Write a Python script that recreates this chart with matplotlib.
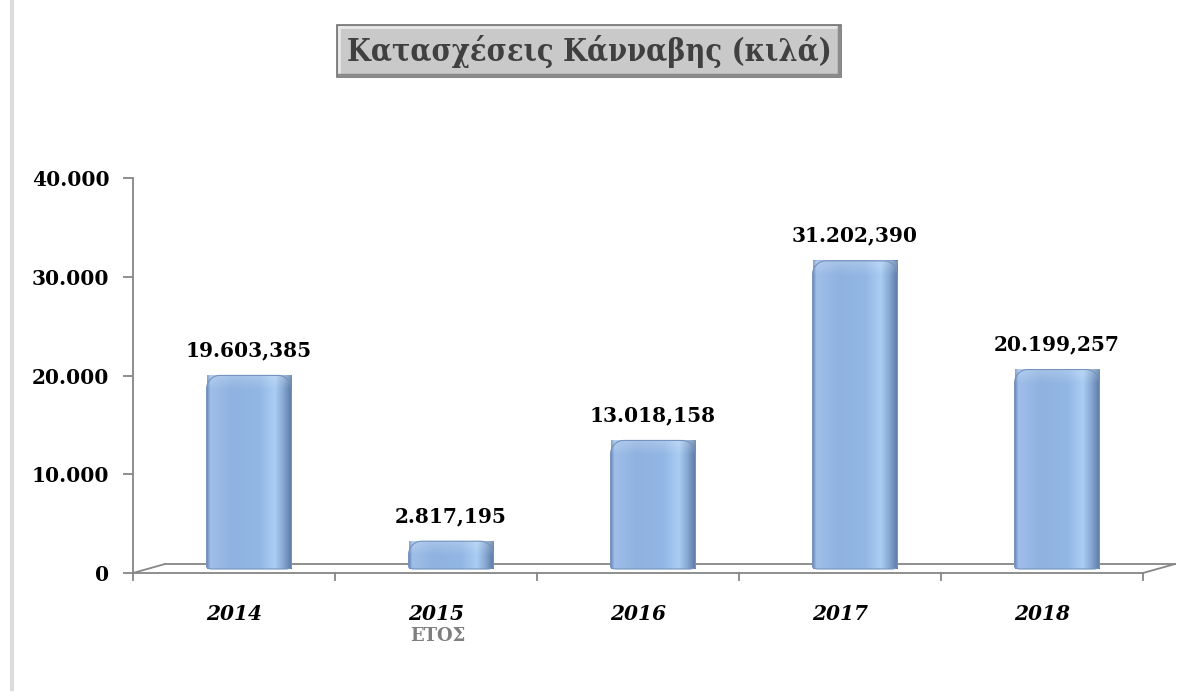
import matplotlib
matplotlib.use('Agg')

import numpy as np
import matplotlib.pyplot as plt
from matplotlib.patches import Polygon, Rectangle
from matplotlib.colors import LinearSegmentedColormap
from matplotlib.transforms import ScaledTranslation
from matplotlib.lines import Line2D

years = ['2014', '2015', '2016', '2017', '2018']
kilos = [19603.385, 2817.195, 13018.158, 31202.390, 20199.257]
yticks = [0, 10000, 20000, 30000, 40000]
title = 'Κατασχέσεις Κάνναβης (κιλά)'
xlabel = 'ΕΤΟΣ'


def gr_int(v):
    return f'{v:,.0f}'.replace(',', '.')


def gr_dec(v):
    return f'{v:,.3f}'.replace(',', 'X').replace('.', ',').replace('X', '.')


def rounded_bar(x0, w, h, rx, ry, bx, by):
    # outline of a bar with big rounded top corners, small bottom ones
    t = np.linspace(0, np.pi / 2, 12)
    pts = []
    pts += list(zip(x0 + bx - bx * np.sin(t[::-1]), by - by * np.cos(t[::-1])))
    pts += list(zip(x0 + w - bx + bx * np.sin(t), by - by * np.cos(t)))
    pts += list(zip(x0 + w - rx + rx * np.cos(t), h - ry + ry * np.sin(t)))
    pts += list(zip(x0 + rx - rx * np.sin(t), h - ry + ry * np.cos(t)))
    return np.array(pts)


DPI = 100
W, H = 1193, 696
fig = plt.figure(figsize=(W / DPI, H / DPI), dpi=DPI)
fig.patch.set_facecolor('white')

# axes box: x 133..1143 px, y 178..573 px
ax = fig.add_axes([133 / W, (H - 573) / H, 1010 / W, (573 - 178) / H])
ax.set_xlim(-0.5, 4.5)
ax.set_ylim(0, 40000)
for s in ['top', 'right', 'bottom']:
    ax.spines[s].set_visible(False)
ax.spines['left'].set_color('#868686')
ax.spines['left'].set_linewidth(1.3)
ax.patch.set_alpha(0)

serif = 'DejaVu Serif'
axis_col = '#868686'

# pseudo 3D floor
depth = ScaledTranslation(32 / DPI, 9 / DPI, fig.dpi_scale_trans)
mid = ScaledTranslation(15 / DPI, 4 / DPI, fig.dpi_scale_trans)
ax.plot([-0.5, 4.5], [0, 0], color=axis_col, lw=1.3, clip_on=False, zorder=0.5)
ax.plot([-0.5, 4.5], [0, 0], color=axis_col, lw=1.3, clip_on=False,
        transform=ax.transData + depth, zorder=0.5)
for xe in [-0.5, 4.5]:
    fx, fy = ax.transData.transform((xe, 0))
    ax.add_line(Line2D([fx, fx + 32], [fy, fy + 9], color=axis_col, lw=1.3,
                       transform=None, clip_on=False, zorder=0.5))

# category ticks on the front edge
for xe in np.arange(-0.5, 5.0, 1.0):
    fx, fy = ax.transData.transform((xe, 0))
    ax.add_line(Line2D([fx, fx], [fy, fy - 7], color=axis_col, lw=1.3,
                       transform=None, clip_on=False))

# bars with gradient and rounded tops
cmap = LinearSegmentedColormap.from_list('bar', [
    (0.0, '#6f8dba'), (0.04, '#9fbfe9'), (0.3, '#8fb2e0'), (0.62, '#93b7e5'),
    (0.8, '#aacdf3'), (0.9, '#86a8d3'), (1.0, '#5a78a0')])
grad = np.linspace(0, 1, 256).reshape(1, -1)
shine = np.zeros((64, 1, 4))
shine[..., :3] = 1.0
shine[:, 0, 3] = np.linspace(0.22, 0.0, 64)
bar_tr = ax.transData + mid
bars = ax.bar(range(len(years)), kilos, width=0.42, transform=bar_tr, alpha=0)
for b in bars:
    x0, w, h = b.get_x(), b.get_width(), b.get_height()
    outline = Polygon(rounded_bar(x0, w, h, 0.065, 1350, 0.03, 250),
                      closed=True, transform=bar_tr, facecolor='none',
                      edgecolor='#7593bf', lw=0.8, clip_on=False, zorder=2.2)
    ax.add_patch(outline)
    im = ax.imshow(grad, cmap=cmap, aspect='auto', extent=[x0, x0 + w, 0, h],
                   transform=bar_tr, interpolation='bilinear', clip_on=False,
                   zorder=2)
    im.set_clip_path(outline)
    top = ax.imshow(shine, aspect='auto',
                    extent=[x0, x0 + w, max(h - 1500, 0), h],
                    transform=bar_tr, interpolation='bilinear', clip_on=False,
                    zorder=2.1)
    top.set_clip_path(outline)
    ax.annotate(gr_dec(b.get_height()), (x0 + w / 2, h), xytext=(0, 11),
                textcoords='offset points', xycoords=bar_tr, ha='center',
                va='bottom', fontsize=14.5, fontweight='bold', family=serif)

ax.set_xlim(-0.5, 4.5)
ax.set_ylim(0, 40000)

ax.set_yticks(yticks)
ax.set_yticklabels([gr_int(v) for v in yticks], fontsize=14.5,
                   fontweight='bold', family=serif)
ax.tick_params(axis='y', length=7, width=1.3, color=axis_col, pad=10)
ax.set_xticks(range(len(years)))
ax.set_xticklabels(years, fontsize=14.5, fontweight='bold', style='italic',
                   family=serif)
ax.tick_params(axis='x', length=0, pad=22)

fig.text(438 / W, 1 - 636 / H, xlabel, ha='center', va='center', fontsize=13,
         fontweight='bold', family=serif, color='#7f7f7f')

# title in a bevelled grey box
bx0, by0, bx1, by1 = 337, 25, 841, 77
fig.add_artist(Rectangle((bx0 / W, 1 - by1 / H), (bx1 - bx0) / W,
                         (by1 - by0) / H, transform=fig.transFigure,
                         facecolor='#c9c9c9', edgecolor='#6f6f6f', lw=1.2))
fig.add_artist(Line2D([(bx0 + 2) / W, (bx1 - 2) / W], [1 - (by0 + 2) / H] * 2,
                      color='#e8e8e8', lw=2))
fig.add_artist(Line2D([(bx0 + 2) / W] * 2, [1 - (by0 + 2) / H, 1 - (by1 - 2) / H],
                      color='#e8e8e8', lw=2))
fig.add_artist(Line2D([(bx0 + 2) / W, (bx1 - 2) / W], [1 - (by1 - 2) / H] * 2,
                      color='#8a8a8a', lw=2.5))
fig.add_artist(Line2D([(bx1 - 2) / W] * 2, [1 - (by0 + 2) / H, 1 - (by1 - 2) / H],
                      color='#8a8a8a', lw=2.5))
fig.text((bx0 + bx1) / 2 / W, 1 - 52 / H, title, ha='center', va='center',
         fontsize=22, fontweight='bold', family=serif, fontstretch='condensed',
         color='#404040')

# page border on the left
fig.add_artist(Line2D([12 / W, 12 / W], [0.01, 1], color='#dcdcdc', lw=3))

plt.savefig('out.png', dpi=DPI)
